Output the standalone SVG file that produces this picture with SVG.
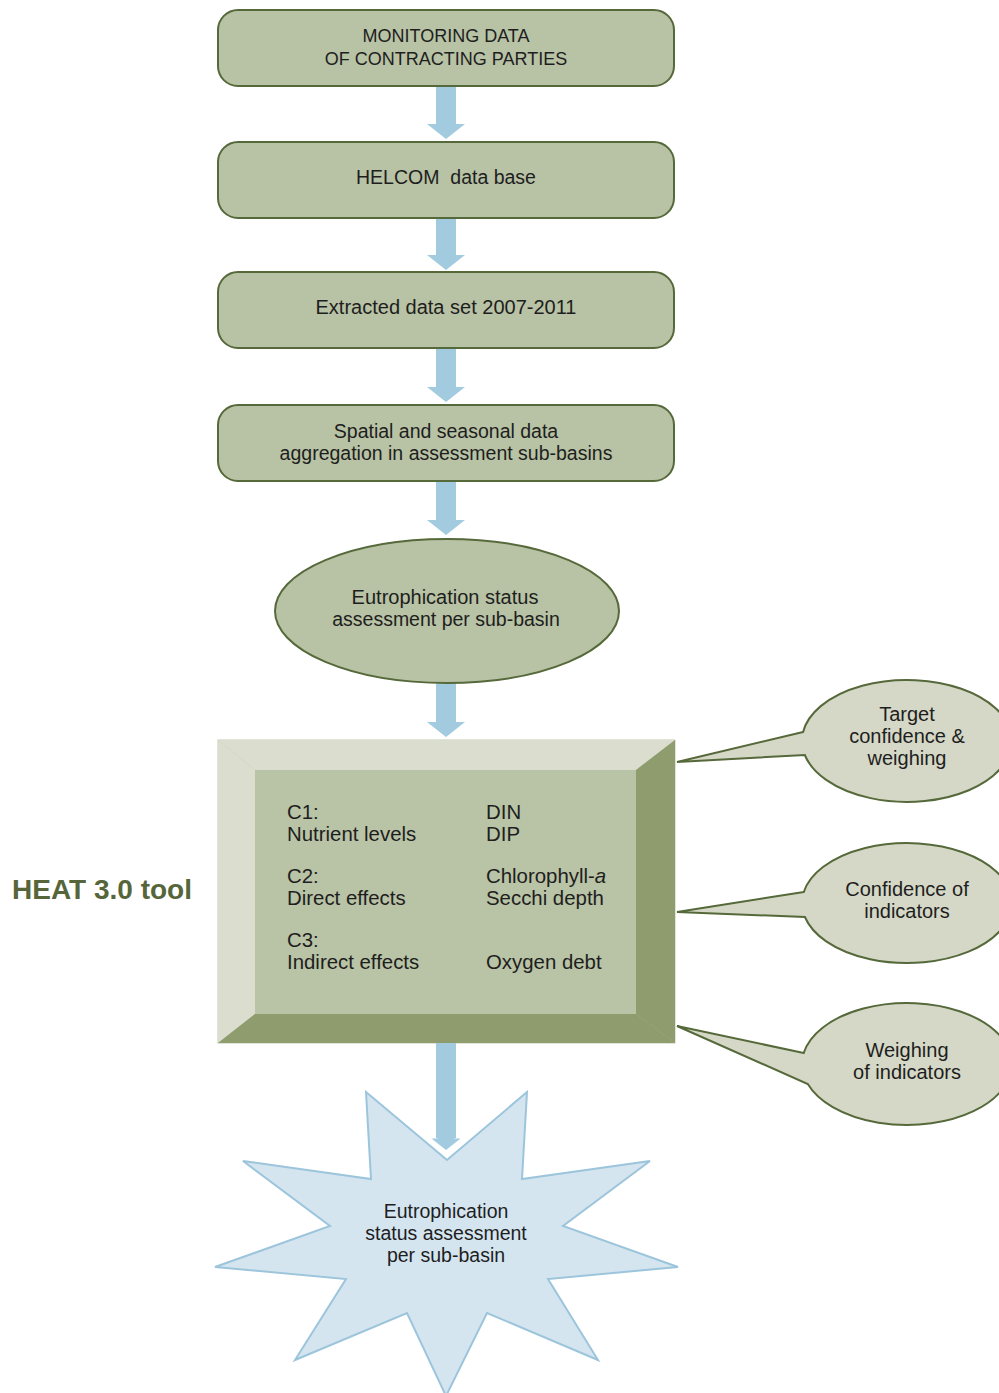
<svg xmlns="http://www.w3.org/2000/svg" width="999" height="1393" viewBox="0 0 999 1393">
<style>
.box{fill:#b8c2a4;stroke:#56693a;stroke-width:2}
.arrow{fill:#a3cbe0}
.t{font-family:"Liberation Sans",Arial,sans-serif;font-size:19.5px;fill:#1e1e1e;text-anchor:middle}
.caps{font-size:18px}
.c{font-size:20px}
.ti{font-family:"Liberation Sans",Arial,sans-serif;font-size:20.4px;fill:#1e1e1e}
.call{fill:#d5d8c6;stroke:#56693a;stroke-width:2}
.light{fill:#dbdecf}
.dark{fill:#8e9c6e}
</style>
<rect width="999" height="1393" fill="#ffffff"/>
<g id="connectors">
<polygon class="arrow" points="436,86 456,86 456,124 465,124 446,139 427,124 436,124"/>
<polygon class="arrow" points="436,218 456,218 456,255 465,255 446,270 427,255 436,255"/>
<polygon class="arrow" points="436,348 456,348 456,387 465,387 446,402 427,387 436,387"/>
<polygon class="arrow" points="436,481 456,481 456,520 465,520 446,535 427,520 436,520"/>
<polygon class="arrow" points="436,683 456,683 456,722 465,722 446,737 427,722 436,722"/>
</g>
<g id="n1">
<rect class="box" x="218" y="10" width="456" height="76" rx="20"/>
<text class="t caps" x="446" y="42">MONITORING DATA</text>
<text class="t caps" x="446" y="65">OF CONTRACTING PARTIES</text>
</g>
<g id="n2">
<rect class="box" x="218" y="142" width="456" height="76" rx="20"/>
<text class="t" x="446" y="184" xml:space="preserve">HELCOM  data base</text>
</g>
<g id="n3">
<rect class="box" x="218" y="272" width="456" height="76" rx="20"/>
<text class="t c" x="446" y="314">Extracted data set 2007-2011</text>
</g>
<g id="n4">
<rect class="box" x="218" y="405" width="456" height="76" rx="20"/>
<text class="t" x="446" y="438">Spatial and seasonal data</text>
<text class="t" x="446" y="460">aggregation in assessment sub-basins</text>
</g>
<g id="n5">
<ellipse class="box" cx="447" cy="611" rx="172" ry="72"/>
<text class="t c" x="445" y="604">Eutrophication status</text>
<text class="t" x="446" y="626">assessment per sub-basin</text>
</g>
<g id="heat-label">
<text x="12" y="899" font-family="Liberation Sans, Arial, sans-serif" font-size="28" font-weight="bold" fill="#56663a">HEAT 3.0 tool</text>
</g>
<g id="n6">
<rect x="218" y="740" width="457" height="303" fill="#b9c3a5" stroke="#c4c9b4" stroke-width="1"/>
<polygon class="light" points="218,740 675,740 636,770 255,770"/>
<polygon class="light" points="218,740 255,770 255,1014 218,1043"/>
<polygon class="dark" points="675,740 675,1043 636,1014 636,770"/>
<polygon class="dark" points="218,1043 675,1043 636,1014 255,1014"/>
<rect x="255" y="770" width="381" height="244" fill="#b9c3a5"/>
<text class="ti" x="287" y="819">C1:</text>
<text class="ti" x="287" y="841">Nutrient levels</text>
<text class="ti" x="287" y="883">C2:</text>
<text class="ti" x="287" y="905">Direct effects</text>
<text class="ti" x="287" y="947">C3:</text>
<text class="ti" x="287" y="969">Indirect effects</text>
<text class="ti" x="486" y="819">DIN</text>
<text class="ti" x="486" y="841">DIP</text>
<text class="ti" x="486" y="883">Chlorophyll-<tspan font-style="italic">a</tspan></text>
<text class="ti" x="486" y="905">Secchi depth</text>
<text class="ti" x="486" y="969">Oxygen debt</text>
</g>
<g id="c1">
<path class="call" d="M 803.1 732 L 677 762 L 804.8 755 A 105 61 0 1 0 803.1 732 Z"/>
<text class="t c" x="907" y="721">Target</text>
<text class="t c" x="907" y="743">confidence &amp;</text>
<text class="t c" x="907" y="765">weighing</text>
</g>
<g id="c2">
<path class="call" d="M 803.8 892 L 677 912 L 804.9 917 A 105 60 0 1 0 803.8 892 Z"/>
<text class="t c" x="907" y="896">Confidence of</text>
<text class="t c" x="907" y="918">indicators</text>
</g>
<g id="c3">
<path class="call" d="M 803.7 1053 L 677 1026 L 807.8 1084 A 105 61 0 1 0 803.7 1053 Z"/>
<text class="t c" x="907" y="1057">Weighing</text>
<text class="t c" x="907" y="1079">of indicators</text>
</g>
<g id="n7">
<polygon fill="#d4e5f0" stroke="#9cc5dc" stroke-width="2" points="366,1092 447,1160 527,1092 522,1179 650,1161 563,1226 678,1267 548,1279 598,1360 487,1313 446,1396 407,1313 295,1360 346,1279 215,1267 330,1226 243,1161 371,1179"/>
<text class="t" x="446" y="1218">Eutrophication</text>
<text class="t" x="446" y="1240">status assessment</text>
<text class="t" x="446" y="1262">per sub-basin</text>
</g>
<g id="connectors-2">
<polygon class="arrow" stroke="#ffffff" stroke-width="3" points="436,1050 456,1050 456,1137 465,1137 446,1152 427,1137 436,1137"/>
<rect class="arrow" x="436" y="1043" width="20" height="95"/>
</g>
</svg>
